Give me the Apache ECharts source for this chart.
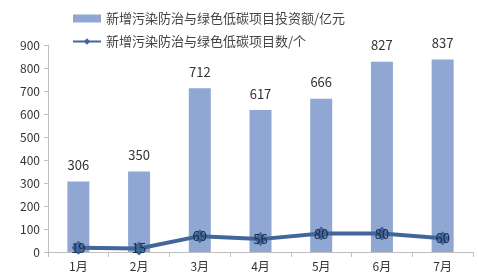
<!DOCTYPE html>
<html><head><meta charset="utf-8">
<script src="https://cdn.jsdelivr.net/npm/echarts@6/dist/echarts.min.js"></script>
<style>html,body{margin:0;padding:0;background:#fff}#c{width:478px;height:279px}</style>
</head><body><div id="c"></div>
<script>
const categories = ['1月','2月','3月','4月','5月','6月','7月'];
const investment = [306, 350, 712, 617, 666, 827, 837];
const projects = [19, 15, 69, 56, 80, 80, 60];
const yTicks = [0, 900, 100];
const seriesNames = ['新增污染防治与绿色低碳项目投资额/亿元', '新增污染防治与绿色低碳项目数/个'];
const font = '"Noto Sans CJK SC", sans-serif';
const chart = echarts.init(document.getElementById('c'));
chart.setOption({
  animation: false,
  textStyle: {fontFamily: font},
  grid: {left: 48, right: 5, top: 45, bottom: 27},
  legend: {
    orient: 'vertical', left: 67, top: 7, itemGap: 10,
    itemWidth: 28, itemHeight: 8,
    textStyle: {fontSize: 13, color: '#444', fontFamily: font},
    data: [
      {name: seriesNames[0], icon: 'rect'},
      {name: seriesNames[1]}
    ]
  },
  xAxis: {
    type: 'category', data: categories,
    axisLine: {lineStyle: {color: '#bfbfbf'}},
    axisTick: {show: true, lineStyle: {color: '#bfbfbf'}},
    axisLabel: {color: '#333', fontSize: 12, margin: 8, fontFamily: font}
  },
  yAxis: {
    type: 'value', min: yTicks[0], max: yTicks[1], interval: yTicks[2],
    axisLine: {show: true, lineStyle: {color: '#bfbfbf'}},
    axisTick: {show: true, length: 4, lineStyle: {color: '#bfbfbf'}},
    splitLine: {show: false},
    axisLabel: {color: '#333', fontSize: 12, margin: 8, fontFamily: font}
  },
  series: [
    {
      name: seriesNames[0], type: 'bar', data: investment, barWidth: 22,
      itemStyle: {color: '#8FA7D2'},
      label: {show: true, position: 'top', distance: 10, color: '#333', fontSize: 13, fontFamily: font}
    },
    {
      name: seriesNames[1], type: 'line', data: projects,
      symbol: 'diamond', symbolSize: 14,
      lineStyle: {color: '#41679A', width: 4},
      itemStyle: {color: '#41679A'},
      label: {show: true, position: 'inside', color: '#1A2C4A', fontSize: 13, fontFamily: font}
    }
  ]
});
</script></body></html>
